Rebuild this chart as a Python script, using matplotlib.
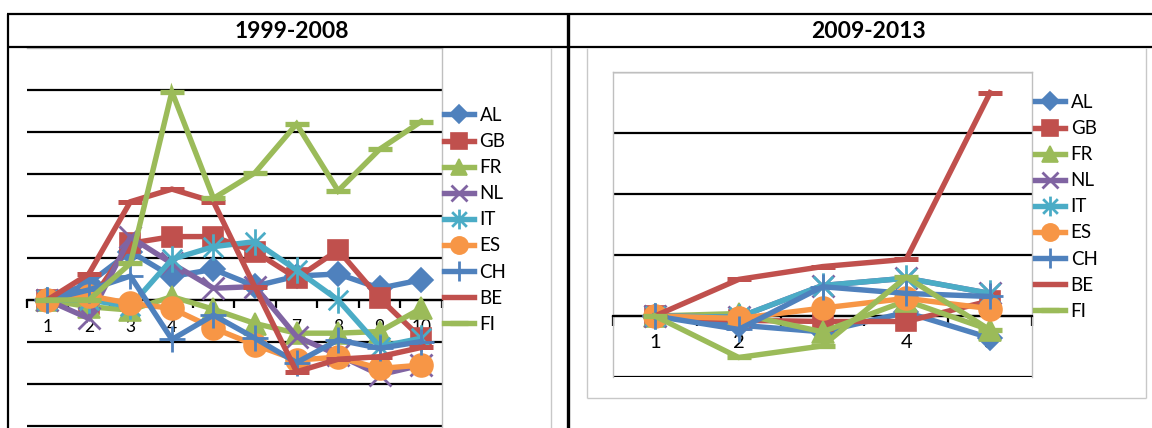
import matplotlib
matplotlib.use("Agg")
import matplotlib.pyplot as plt
from matplotlib.lines import Line2D
from matplotlib.path import Path
import numpy as np

# ---- data -------------------------------------------------------------
countries = ["AL", "GB", "FR", "NL", "IT", "ES", "CH", "BE", "FI"]
period_titles = ["1999-2008", "2009-2013"]

x_labels_1 = ["1", "2", "3", "4", "5", "6", "7", "8", "9", "10"]
al_1 = [0, 0.40, 1.15, 0.56, 0.73, 0.33, 0.57, 0.62, 0.28, 0.48]
gb_1 = [0, -0.10, 1.35, 1.51, 1.51, 1.15, 0.52, 1.19, 0.04, -0.91]
fr_1 = [0, -0.16, -0.24, 0.08, -0.22, -0.56, -0.79, -0.79, -0.75, -0.20]
nl_1 = [0, -0.44, 1.50, 0.87, 0.28, 0.32, -0.87, -1.31, -1.78, -1.55]
it_1 = [0, 0.00, -0.15, 0.97, 1.27, 1.39, 0.71, 0.00, -1.11, -0.91]
es_1 = [0, 0.10, -0.08, -0.20, -0.67, -1.07, -1.43, -1.36, -1.63, -1.55]
ch_1 = [0, 0.24, 0.57, -0.94, -0.36, -0.91, -1.49, -0.95, -1.15, -0.99]
be_1 = [0, 0.62, 2.34, 2.64, 2.34, 0.30, -1.71, -1.41, -1.35, -1.13]
fi_1 = [0, 0.00, 0.87, 4.96, 2.42, 3.03, 4.19, 2.60, 3.59, 4.25]

x_labels_2 = ["1", "2", "3", "4", "5"]
al_2 = [0, -0.15, -0.26, 0.06, -0.36]
gb_2 = [0, -0.07, -0.09, -0.09, 0.25]
fr_2 = [0, 0.04, -0.26, 0.25, -0.23]
nl_2 = [0, -0.02, 0.50, 0.62, 0.37]
it_2 = [0, -0.02, 0.50, 0.62, 0.37]
es_2 = [0, -0.04, 0.13, 0.29, 0.12]
ch_2 = [0, -0.22, 0.48, 0.37, 0.32]
be_2 = [0, 0.60, 0.81, 0.93, 3.66]
fi_2 = [0, -0.68, -0.49, 0.64, -0.23]

series_1 = [al_1, gb_1, fr_1, nl_1, it_1, es_1, ch_1, be_1, fi_1]
series_2 = [al_2, gb_2, fr_2, nl_2, it_2, es_2, ch_2, be_2, fi_2]

# ---- styling ----------------------------------------------------------
FONT = ["Lato", "DejaVu Sans"]
plt.rcParams["font.family"] = FONT

BLUE, RED, GREEN = "#4F81BD", "#C0504D", "#9BBB59"
PURPLE, CYAN, ORANGE = "#8064A2", "#4BACC6", "#F79646"

asterisk = Path(
    [(-1, -1), (1, 1), (-1, 1), (1, -1), (0, -1.35), (0, 1.35)],
    [Path.MOVETO, Path.LINETO] * 3,
)

styles = {
    "AL": dict(color=BLUE, marker="D", ms=12.5, mew=1.2),
    "GB": dict(color=RED, marker="s", ms=15, mew=1.2),
    "FR": dict(color=GREEN, marker="^", ms=16, mew=1.2),
    "NL": dict(color=PURPLE, marker="x", ms=16, mew=2.0),
    "IT": dict(color=CYAN, marker=asterisk, ms=19, mew=2.0),
    "ES": dict(color=ORANGE, marker="o", ms=16.5, mew=1.2),
    "CH": dict(color=BLUE, marker="+", ms=19, mew=2.0),
    "BE": dict(color=RED, marker="_", ms=17, mew=3.6),
    "FI": dict(color=GREEN, marker="_", ms=17, mew=3.8),
}

W, H = 1152, 428
fig = plt.figure(figsize=(W / 100, H / 100), dpi=100)


def fx(px):
    return px / W


def fy(py):
    return 1 - py / H


def draw_panel(ax, labels, data, ylo, yhi, grid_vals, tick_fs, pad, tick_len):
    n = len(labels)
    x = np.arange(1, n + 1)
    for name, vals in zip(countries, data):
        st = styles[name]
        ax.plot(x, vals, color=st["color"], lw=3.9, marker=st["marker"],
                ms=st["ms"], mew=st["mew"], mec=st["color"], mfc=st["color"],
                label=name, zorder=3, clip_on=False,
                solid_joinstyle="miter")
    ax.set_xlim(0.5, n + 0.5)
    ax.set_ylim(ylo, yhi)
    ax.set_xticks(np.arange(0.5, n + 1.0, 1.0))
    ax.set_xticks(x, minor=True)
    ax.set_xticklabels(labels, minor=True)
    ax.tick_params(axis="x", which="major", direction="out", length=tick_len,
                   width=1.6, color="black", labelbottom=False)
    ax.tick_params(axis="x", which="minor", length=0, pad=pad,
                   labelsize=tick_fs, labelcolor="black")
    ax.set_yticks(grid_vals)
    ax.tick_params(axis="y", length=0, labelleft=False)
    ax.grid(axis="y", color="black", lw=1.6)
    ax.set_axisbelow(True)
    ax.spines["bottom"].set_position(("data", 0))
    ax.spines["bottom"].set_color("black")
    ax.spines["bottom"].set_linewidth(1.6)
    ax.patch.set_alpha(0)


# left panel: 42 px per unit, zero line at y=300 px
axL = fig.add_axes([fx(26.5), fy(468), fx(442) - fx(26.5), (468 - 48) / H])
draw_panel(axL, x_labels_1, series_1, -4, 6, list(range(-3, 6)), 12.5, 14, 6)
axL.spines["left"].set_visible(False)
axL.spines["right"].set_color("#BFBFBF")
axL.spines["top"].set_color("#BFBFBF")
axL.spines["right"].set_linewidth(1.0)
axL.spines["top"].set_linewidth(1.0)

# right panel: 61 px per unit, zero line at y=316 px
axR = fig.add_axes([fx(613), fy(377), (1032 - 613) / W, (377 - 72) / H])
draw_panel(axR, x_labels_2, series_2, -1, 4, list(range(-1, 5)), 14.5, 13, 7)
for side in ("left", "right", "top"):
    axR.spines[side].set_color("#BFBFBF")
    axR.spines[side].set_linewidth(1.0)

# legends
for ax, anchor in ((axL, (444, 107)), (axR, (1035, 94))):
    ax.legend(loc="upper left", bbox_to_anchor=(fx(anchor[0]), fy(anchor[1])),
              bbox_transform=fig.transFigure, frameon=False, borderpad=0,
              borderaxespad=0, handlelength=1.6, handletextpad=0.3,
              labelspacing=0.485, markerscale=0.75, fontsize=13.5)

# table rules
def rule(x0, y0, x1, y1, color="black", lw=1.6):
    fig.add_artist(Line2D([fx(x0), fx(x1)], [fy(y0), fy(y1)],
                          transform=fig.transFigure, color=color, lw=lw,
                          solid_capstyle="butt"))


rule(7, 14, W, 14)
rule(7, 47, W, 47)
rule(8, 14, 8, H)
rule(568, 14, 568, H, lw=2.4)

# chart-area frames
rule(551, 48, 551, H, color="#C8C8C8", lw=1.0)
rule(587, 48, 587, 398, color="#C8C8C8", lw=1.0)
rule(587, 398, 1146, 398, color="#C8C8C8", lw=1.0)
rule(1146, 48, 1146, 398, color="#C8C8C8", lw=1.0)

fig.text(fx(291.7), fy(31.5), period_titles[0], ha="center", va="center",
         fontsize=16.5, fontweight="bold")
fig.text(fx(869), fy(31.5), period_titles[1], ha="center", va="center",
         fontsize=16.5, fontweight="bold")

fig.savefig("out.png", dpi=100)
